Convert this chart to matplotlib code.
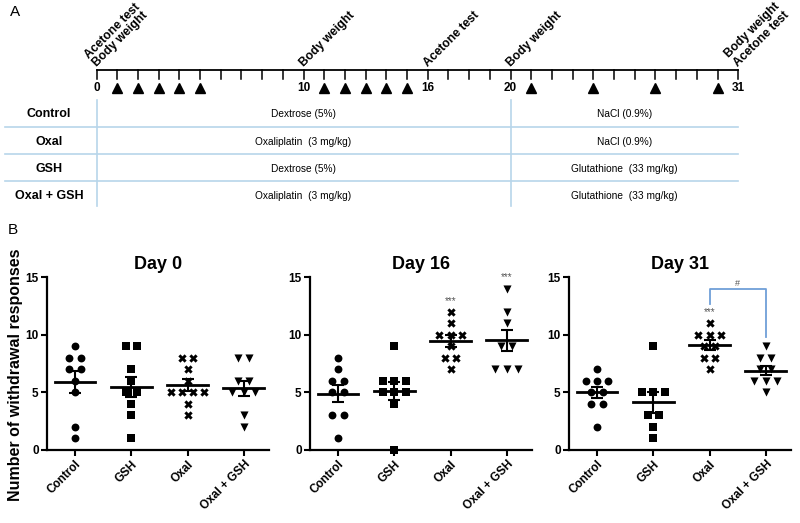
import numpy as np
import matplotlib.pyplot as plt
from matplotlib import font_manager

plt.rcParams['font.family'] = ['Liberation Sans', 'DejaVu Sans']

# ---- panel A data
tick_days = list(range(0, 32))
number_days = [0, 10, 16, 20, 31]
inj_days = [1, 2, 3, 4, 5, 11, 12, 13, 14, 15, 21, 24, 27, 30]
event_days = [0, 10, 16, 20, 31]
event_text = ['Acetone test\nBody weight', 'Body weight', 'Acetone test',
              'Body weight', 'Body weight\nAcetone test']

row_names = ['Control', 'Oxal', 'GSH', 'Oxal + GSH']
phase1 = ['Dextrose (5%)', 'Oxaliplatin  (3 mg/kg)', 'Dextrose (5%)', 'Oxaliplatin  (3 mg/kg)']
phase2 = ['NaCl (0.9%)', 'NaCl (0.9%)', 'Glutathione  (33 mg/kg)', 'Glutathione  (33 mg/kg)']

# ---- panel B data
groups = ['Control', 'GSH', 'Oxal', 'Oxal + GSH']
titles = ['Day 0', 'Day 16', 'Day 31']
d0_control = [9, 8, 8, 7, 7, 6, 5, 2, 1]
d0_gsh = [9, 9, 7, 6, 5, 5, 4, 3, 1]
d0_oxal = [8, 8, 7, 6, 5, 5, 5, 5, 4, 3]
d0_oxgsh = [8, 8, 6, 6, 5, 5, 5, 3, 2]
d16_control = [8, 7, 6, 6, 5, 5, 3, 3, 1]
d16_gsh = [9, 6, 6, 6, 5, 5, 5, 4, 0]
d16_oxal = [12, 11, 10, 10, 10, 9, 8, 8, 7]
d16_oxgsh = [14, 12, 11, 9, 9, 7, 7, 7]
d31_control = [7, 6, 6, 6, 5, 5, 4, 4, 2]
d31_gsh = [9, 5, 5, 5, 3, 3, 2, 1]
d31_oxal = [11, 10, 10, 10, 9, 9, 8, 8, 7]
d31_oxgsh = [9, 8, 8, 7, 7, 6, 6, 6, 5]

names = {f.name for f in font_manager.fontManager.ttflist}
if 'Liberation Sans Narrow' in names:
    narrow, tsize = ['Liberation Sans Narrow', 'Liberation Sans'], 8.5
else:
    narrow, tsize = ['Liberation Sans', 'DejaVu Sans'], 7.3

fig = plt.figure(figsize=(8, 5.23), dpi=100)

# ---------------- A: timeline + table (x in days, y in pixels)
axA = fig.add_axes([0, 0, 1, 1])
axA.set_xlim(-96.5 / 20.7, (800 - 96.5) / 20.7)
axA.set_ylim(523, 0)
axA.axis('off')

axA.plot([0, 31], [70, 70], color='black', lw=1.3)
for d in tick_days:
    axA.plot([d, d], [70, 79], color='black', lw=1.1)
for d in number_days:
    axA.text(d, 88, str(d), ha='center', va='center', fontsize=8.5, fontweight='bold')
axA.plot(inj_days, [88] * len(inj_days), '^', color='black', ms=6.8)
for d, t in zip(event_days, event_text):
    axA.text(d + 0.1, 69, t, rotation=45, rotation_mode='anchor', ha='left', va='bottom',
             fontsize=8.7, fontweight='bold', linespacing=0.85 if d == 0 else 1.1)

line_c = '#b7d5ea'
for y in [127, 154, 181]:
    axA.plot([-4.42, 31], [y, y], color=line_c, lw=1.2)
for d in [0, 20]:
    axA.plot([d, d], [100, 206], color=line_c, lw=1.2)
for k, y in enumerate([114, 142, 169, 196]):
    axA.text(-2.29, y, row_names[k], ha='center', va='center', fontsize=9,
             fontweight='bold')
    axA.text(10, y, phase1[k], ha='center', va='center', fontsize=tsize, family=narrow)
    axA.text(25.5, y, phase2[k], ha='center', va='center', fontsize=tsize, family=narrow)

fig.text(0.012, 0.977, 'A', fontsize=11, va='center')
fig.text(0.01, 0.56, 'B', fontsize=11, va='center')

# ---------------- B: scatter panels
data = [[d0_control, d0_gsh, d0_oxal, d0_oxgsh],
        [d16_control, d16_gsh, d16_oxal, d16_oxgsh],
        [d31_control, d31_gsh, d31_oxal, d31_oxgsh]]
markers = ['o', 's', 'X', 'v']
sizes = [32, 32, 36, 34]
lefts = [47, 310, 569]

axes = []
for p in range(3):
    ax = fig.add_axes([lefts[p] / 800, 73 / 523, 222 / 800, 173 / 523])
    axes.append(ax)
    for i, vals in enumerate(data[p]):
        vals = np.array(vals)
        for v in np.unique(vals):
            n = np.sum(vals == v)
            xs = i + (np.arange(n) - (n - 1) / 2) * 0.2
            ax.scatter(xs, [v] * n, marker=markers[i], s=sizes[i], color='black',
                       linewidths=0, zorder=3, clip_on=False)
        m = vals.mean()
        sem = vals.std(ddof=1) / np.sqrt(len(vals))
        ax.plot([i - 0.36, i + 0.36], [m, m], color='black', lw=2, zorder=4)
        ax.errorbar(i, m, yerr=sem, color='black', lw=1.5, capsize=4, capthick=1.5, zorder=4)
    ax.set_xlim(-0.5, 3.45)
    ax.set_ylim(0, 15)
    ax.set_yticks([0, 5, 10, 15])
    ax.set_xticks(range(4))
    ax.set_xticklabels(groups, rotation=45, ha='right', rotation_mode='anchor',
                       fontsize=8.5, fontweight='bold')
    for lab in ax.get_yticklabels():
        lab.set_fontweight('bold')
        lab.set_fontsize(8.5)
    for s in ['top', 'right']:
        ax.spines[s].set_visible(False)
    for s in ['left', 'bottom']:
        ax.spines[s].set_linewidth(1.6)
    ax.tick_params(width=1.5, length=4, pad=2)
    ax.patch.set_alpha(0)
    ax.set_title(titles[p], fontsize=13, fontweight='bold', pad=6)

star_c = '#555555'
axes[1].text(2, 12.9, '***', ha='center', va='center', fontsize=7, color=star_c)
axes[1].text(3, 15.0, '***', ha='center', va='center', fontsize=7, color=star_c)
axes[2].text(2, 12.0, '***', ha='center', va='center', fontsize=7, color=star_c)
axes[2].plot([2, 2, 3, 3], [12.7, 14.0, 14.0, 9.8], color='#6f9fd8', lw=1.3, zorder=2)
axes[2].text(2.5, 14.4, '#', ha='center', va='center', fontsize=6.5, color=star_c)

fig.text(0.019, 0.283, 'Number of withdrawal responses', rotation=90, ha='center',
         va='center', fontsize=11.5, fontweight='bold')

fig.savefig('out.png', dpi=100)
